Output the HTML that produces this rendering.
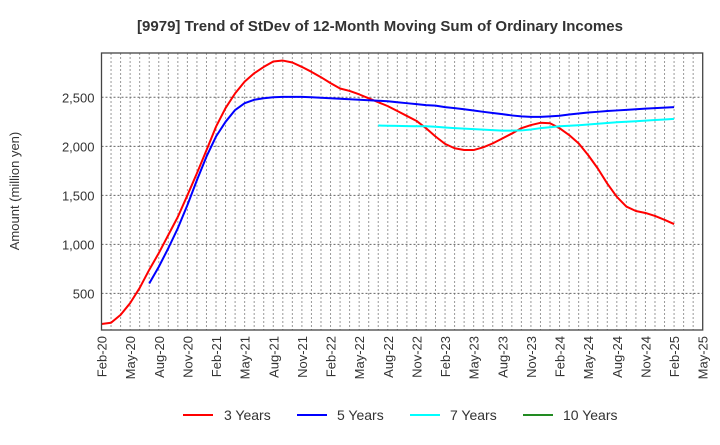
<!DOCTYPE html>
<html><head><meta charset="utf-8"><style>
body{margin:0;background:#fff;font-family:"Liberation Sans",sans-serif}
</style></head><body>
<svg id="chart" width="720" height="440" xmlns="http://www.w3.org/2000/svg" font-family="Liberation Sans, sans-serif">
<text x="380" y="31" text-anchor="middle" font-size="15" font-weight="bold" fill="#333">[9979]  Trend of StDev of 12-Month Moving Sum of Ordinary Incomes</text>
<text transform="translate(19,191) rotate(-90)" text-anchor="middle" font-size="13" fill="#333">Amount (million yen)</text>
<g id="grid"></g><g id="series"></g><g id="axes"></g>
<g font-size="14" fill="#333">
<line x1="183" y1="415" x2="213" y2="415" stroke="#ff0000" stroke-width="2"/><text x="224" y="420">3 Years</text>
<line x1="297" y1="415" x2="327" y2="415" stroke="#0000ff" stroke-width="2"/><text x="337" y="420">5 Years</text>
<line x1="410" y1="415" x2="440" y2="415" stroke="#00ffff" stroke-width="2"/><text x="450" y="420">7 Years</text>
<line x1="523" y1="415" x2="553" y2="415" stroke="#228b22" stroke-width="2"/><text x="563" y="420">10 Years</text>
</g>
</svg>
<script>
const months=["Jan","Feb","Mar","Apr","May","Jun","Jul","Aug","Sep","Oct","Nov","Dec"];
const yTicks=[500,1000,1500,2000,2500];
const red=[187,200,280,400,555,740,910,1095,1280,1500,1725,1960,2200,2390,2540,2660,2745,2810,2865,2875,2855,2810,2760,2705,2645,2590,2565,2530,2490,2450,2410,2360,2310,2260,2185,2100,2025,1980,1962,1962,1990,2030,2080,2130,2185,2217,2240,2235,2185,2115,2030,1910,1775,1620,1485,1385,1340,1320,1290,1250,1207];
const blueStart=5;
const blue=[600,770,960,1165,1400,1655,1895,2100,2250,2370,2440,2475,2490,2500,2505,2505,2505,2500,2495,2490,2485,2480,2475,2470,2465,2460,2450,2440,2430,2420,2415,2400,2390,2378,2365,2352,2340,2328,2315,2305,2300,2300,2305,2312,2325,2335,2345,2352,2360,2366,2372,2378,2385,2390,2395,2400];
const cyanStart=29;
const cyan=[2212,2210,2208,2206,2205,2205,2200,2192,2185,2180,2175,2170,2165,2160,2160,2162,2172,2185,2195,2205,2210,2215,2222,2230,2238,2245,2250,2256,2262,2268,2274,2280];
const X0=101.5,X1=702.7,NM=63,Y0=330,Y1=53,VMIN=126,VMAX=2952;
const x=i=>X0+(X1-X0)*i/NM, y=v=>Y0-(v-VMIN)/(VMAX-VMIN)*(Y0-Y1);
const NS="http://www.w3.org/2000/svg";
function mk(t,a,p){const e=document.createElementNS(NS,t);for(const k in a)e.setAttribute(k,a[k]);p.appendChild(e);return e;}
const grid=document.getElementById('grid'),axes=document.getElementById('axes'),ser=document.getElementById('series');
for(let i=1;i<NM;i++){const g=mk('line',{x1:x(i),x2:x(i),y1:Y1,y2:Y0,stroke:'#999','stroke-width':1,'stroke-dasharray':'2,2'},grid);

}
yTicks.forEach(v=>{const g=mk('line',{x1:X0,x2:X1,y1:y(v),y2:y(v),stroke:'#666','stroke-width':1,'stroke-dasharray':'2,2'},grid);


const t=mk('text',{x:X0-7,y:y(v)+5,'text-anchor':'end','font-size':13,fill:'#333'},axes);t.textContent=v.toLocaleString('en-US');

});
const fr=mk('rect',{x:X0,y:Y1,width:X1-X0,height:Y0-Y1,fill:'none',stroke:'#444','stroke-width':1.3},axes);


for(let i=0;i<=NM;i+=3){const m=(1+i)%12,yr=20+Math.floor((1+i)/12);
const t=mk('text',{transform:`translate(${x(i)+5},${Y0+6}) rotate(-90)`,'text-anchor':'end','font-size':13,fill:'#333'},axes);
t.textContent=months[m]+'-'+yr;

}
function line(arr,start,col,name){const p=mk('polyline',{points:arr.map((v,k)=>x(start+k)+','+y(v)).join(' '),fill:'none',stroke:col,'stroke-width':2,'stroke-linejoin':'round'},ser);

}
line(red,0,'#ff0000','series-3-years');
line(blue,blueStart,'#0000ff','series-5-years');
line(cyan,cyanStart,'#00ffff','series-7-years');
</script>
</body></html>
